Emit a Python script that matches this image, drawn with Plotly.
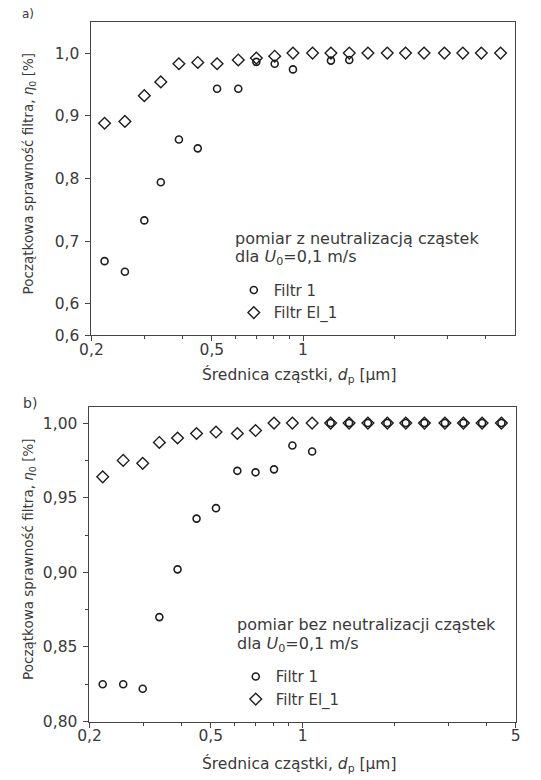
import plotly.graph_objects as go

# particle diameter [µm]
d_um = [0.221, 0.258, 0.299, 0.339, 0.389, 0.449, 0.520, 0.611, 0.701, 0.806, 0.926,
        1.075, 1.236, 1.421, 1.638, 1.897, 2.18, 2.51, 2.93, 3.37, 3.88, 4.49]

# panel a) with neutralization
a_filtr1 = [0.668, 0.651, 0.733, 0.794, 0.862, 0.848, 0.943, 0.943, 0.986, 0.983, 0.974,
            None, 0.988, 0.989, None, None, None, None, None, None, None, None]
a_filtrEl1 = [0.888, 0.891, 0.932, 0.954, 0.983, 0.985, 0.983, 0.989, 0.992, 0.995, 1.0,
              1.0, 1.0, 1.0, 1.0, 1.0, 1.0, 1.0, 1.0, 1.0, 1.0, 1.0]

# panel b) without neutralization
b_filtr1 = [0.825, 0.825, 0.822, 0.870, 0.902, 0.936, 0.943, 0.968, 0.967, 0.969, 0.985,
            0.981, 1.0, 1.0, 1.0, 1.0, 1.0, 1.0, 1.0, 1.0, 1.0, 1.0]
b_filtrEl1 = [0.964, 0.975, 0.973, 0.987, 0.990, 0.993, 0.994, 0.993, 0.995, 1.0, 1.0,
              1.0, 1.0, 1.0, 1.0, 1.0, 1.0, 1.0, 1.0, 1.0, 1.0, 1.0]

x_ticks_a = [0.2, 0.5, 1]
x_ticktext_a = ["0,2", "0,5", "1"]
x_ticks_b = [0.2, 0.5, 1, 5]
x_ticktext_b = ["0,2", "0,5", "1", "5"]
x_minor = [0.3, 0.4, 0.6, 0.7, 0.8, 0.9, 2, 3, 4]

y_ticks_a = [0.55, 0.6, 0.7, 0.8, 0.9, 1.0]
y_ticktext_a = ["0,6", "0,6", "0,7", "0,8", "0,9", "1,0"]
y_ticks_b = [0.80, 0.85, 0.90, 0.95, 1.00]
y_ticktext_b = ["0,80", "0,85", "0,90", "0,95", "1,00"]
y_minor_b = [0.825, 0.875, 0.925, 0.975]

FONT = "DejaVu Sans"
TXT = "#3a3a3a"
MK = "#1e1e1e"

fig = go.Figure()

circ = dict(symbol="circle-open", size=7, line=dict(width=1.6, color=MK), color=MK)
diam = dict(symbol="diamond-open", size=9, line=dict(width=1.4, color=MK), color=MK)

fig.add_trace(go.Scatter(x=d_um, y=a_filtr1, mode="markers", marker=circ, name="Filtr 1",
                         xaxis="x", yaxis="y", legend="legend"))
fig.add_trace(go.Scatter(x=d_um, y=a_filtrEl1, mode="markers", marker=diam, name="Filtr El_1",
                         xaxis="x", yaxis="y", legend="legend"))
fig.add_trace(go.Scatter(x=d_um, y=b_filtr1, mode="markers", marker=circ, name="Filtr 1",
                         xaxis="x2", yaxis="y2", legend="legend2"))
fig.add_trace(go.Scatter(x=d_um, y=b_filtrEl1, mode="markers", marker=diam, name="Filtr El_1",
                         xaxis="x2", yaxis="y2", legend="legend2"))

W, H = 541, 780

def px_x(p):
    return p / W

def px_y(p):
    return (H - p) / H

TICKF = dict(family=FONT, size=15.5, color=TXT)

common_x = dict(type="log", range=[-0.69897, 0.69897], showgrid=False, zeroline=False,
                showline=True, mirror=True, linecolor="#444", linewidth=1,
                ticks="outside", ticklen=5, tickcolor="#444", ticklabelstandoff=-5,
                tickfont=TICKF,
                minor=dict(tickmode="array", tickvals=x_minor, ticks="outside", ticklen=3,
                           tickcolor="#444"))
common_y = dict(showgrid=False, zeroline=False, showline=True, mirror=True,
                linecolor="#444", linewidth=1, ticks="outside", ticklen=5, tickcolor="#444",
                ticklabelstandoff=3, tickfont=TICKF)

fig.update_layout(
    width=W, height=H, margin=dict(l=0, r=0, t=0, b=0),
    paper_bgcolor="white", plot_bgcolor="white",
    xaxis=dict(common_x, domain=[px_x(82), px_x(519)], anchor="y",
               tickmode="array", tickvals=x_ticks_a, ticktext=x_ticktext_a),
    yaxis=dict(common_y, domain=[px_y(339), px_y(22)], anchor="x", range=[0.55, 1.05],
               tickmode="array", tickvals=y_ticks_a, ticktext=y_ticktext_a),
    xaxis2=dict(common_x, domain=[px_x(80), px_x(520)], anchor="y2",
                tickmode="array", tickvals=x_ticks_b, ticktext=x_ticktext_b),
    yaxis2=dict(common_y, domain=[px_y(730), px_y(412)], anchor="x2", range=[0.80, 1.0106],
                tickmode="array", tickvals=y_ticks_b, ticktext=y_ticktext_b,
                minor=dict(tickmode="array", tickvals=y_minor_b, ticks="outside", ticklen=3,
                           tickcolor="#444")),
    legend=dict(x=px_x(229), y=px_y(277), xanchor="left", yanchor="top",
                font=dict(family=FONT, size=15, color=TXT), bgcolor="rgba(0,0,0,0)",
                tracegroupgap=0),
    legend2=dict(x=px_x(231), y=px_y(668), xanchor="left", yanchor="top",
                 font=dict(family=FONT, size=15, color=TXT), bgcolor="rgba(0,0,0,0)",
                 tracegroupgap=0),
    showlegend=True,
)

ann = []
def add_text(text, x, y, size=14, xanchor="left", yanchor="middle", angle=0):
    ann.append(dict(text=text, x=px_x(x), y=px_y(y), xref="paper", yref="paper",
                    showarrow=False, xanchor=xanchor, yanchor=yanchor, textangle=angle,
                    font=dict(family=FONT, size=size, color=TXT)))

add_text("a)", 8, 14, size=12)
add_text("b)", 9, 408, size=14)
add_text("pomiar z neutralizacją cząstek", 228, 241, size=16)
add_text("dla <i>U</i><sub>0</sub>=0,1 m/s", 228, 260, size=16)
add_text("pomiar bez neutralizacji cząstek", 230, 632, size=16)
add_text("dla <i>U</i><sub>0</sub>=0,1 m/s", 230, 652, size=16)
add_text("Średnica cząstki, <i>d</i><sub>p</sub> [µm]", 297, 380, size=15.5, xanchor="center")
add_text("Średnica cząstki, <i>d</i><sub>p</sub> [µm]", 297, 773, size=15.5, xanchor="center")
add_text("Początkowa sprawność filtra, <i>η</i><sub>0</sub> [%]", 18, 176, size=13.5,
         xanchor="center", angle=-90)
add_text("Początkowa sprawność filtra, <i>η</i><sub>0</sub> [%]", 18, 566, size=13.5,
         xanchor="center", angle=-90)
fig.update_layout(annotations=ann)

fig.write_html("out.html")
